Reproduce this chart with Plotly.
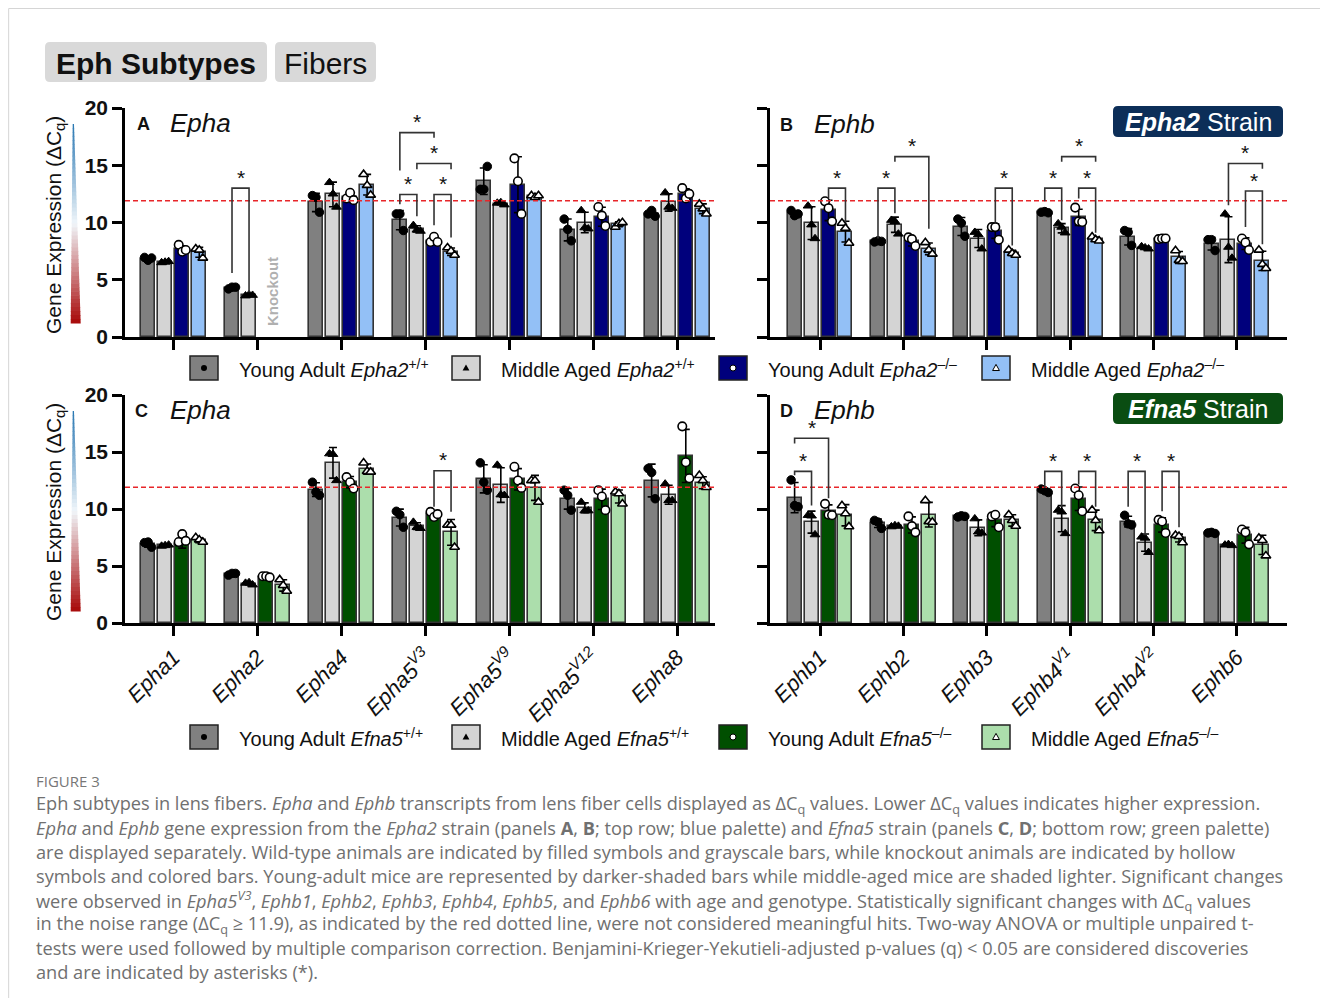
import numpy as np
import plotly.graph_objects as go

# ---------------- data ----------------
EPHA_TICKS = ["<i>Epha1</i>", "<i>Epha2</i>", "<i>Epha4</i>", "<i>Epha5<sup>V3</sup></i>",
              "<i>Epha5<sup>V9</sup></i>", "<i>Epha5<sup>V12</sup></i>", "<i>Epha8</i>"]
EPHB_TICKS = ["<i>Ephb1</i>", "<i>Ephb2</i>", "<i>Ephb3</i>", "<i>Ephb4<sup>V1</sup></i>",
              "<i>Ephb4<sup>V2</sup></i>", "<i>Ephb6</i>"]
NOISE = 11.9

# Panel A: Epha2 strain, Epha genes
A_YAWT_MEAN = [6.85, 4.30, 11.75, 10.20, 13.60, 9.35, 10.75]
A_YAWT_PTS = [[6.95, 6.70, 6.90], [4.20, 4.35, 4.35], [12.35, 12.20, 10.90], [10.75, 10.75, 9.30],
              [12.90, 12.90, 14.90], [10.30, 9.40, 8.40], [10.75, 11.05, 10.55]]
A_MAWT_MEAN = [6.55, 3.65, 12.45, 9.45, 11.65, 10.00, 11.75]
A_MAWT_PTS = [[6.50, 6.55, 6.60], [3.60, 3.70, 3.65], [13.50, 12.50, 11.35], [9.75, 9.35, 9.25],
              [11.70, 11.75, 11.55], [11.05, 9.55, 9.45], [12.60, 11.35, 11.25]]
A_YAKO_MEAN = [7.65, None, 12.25, 8.40, 13.30, 10.50, 12.50]
A_YAKO_PTS = [[8.05, 7.45, 7.60], None, [12.10, 12.60, 11.95], [8.30, 8.75, 8.30],
              [15.60, 13.60, 10.75], [11.35, 10.60, 9.70], [13.00, 12.10, 12.50]]
A_MAKO_MEAN = [7.40, None, 13.30, 7.45, 12.30, 9.85, 11.20]
A_MAKO_PTS = [[7.70, 7.60, 6.90], None, [14.20, 13.25, 12.40], [7.80, 7.50, 7.15],
              [12.35, 12.20, 12.35], [9.60, 9.90, 10.00], [11.60, 11.20, 10.75]]

# Panel B: Epha2 strain, Ephb genes
B_YAWT_MEAN = [10.80, 8.35, 9.65, 10.90, 8.75, 8.15]
B_YAWT_PTS = [[11.05, 10.60, 10.75], [8.30, 8.40, 8.35], [10.30, 9.95, 8.80], [10.90, 10.95, 10.85],
              [9.30, 9.15, 8.00], [8.50, 8.50, 7.55]]
B_MAWT_MEAN = [9.95, 9.80, 8.60, 9.50, 7.80, 8.50]
B_MAWT_PTS = [[11.45, 9.80, 8.60], [10.20, 10.10, 9.00], [9.15, 8.95, 7.70], [9.90, 9.60, 9.10],
              [7.90, 7.80, 7.70], [10.75, 7.85, 6.90]]
B_YAKO_MEAN = [11.05, 8.35, 9.25, 10.45, 8.55, 8.15]
B_YAKO_PTS = [[11.85, 11.25, 10.10], [8.70, 8.55, 7.95], [9.60, 9.60, 8.50], [11.30, 10.10, 10.05],
              [8.55, 8.60, 8.60], [8.60, 8.25, 7.60]]
B_MAKO_MEAN = [9.20, 7.70, 7.35, 8.55, 6.95, 6.65]
B_MAKO_PTS = [[9.95, 9.50, 8.20], [8.25, 7.60, 7.25], [7.60, 7.30, 7.15], [8.75, 8.50, 8.40],
              [7.55, 6.70, 6.60], [7.60, 6.35, 6.00]]

# Panel C: Efna5 strain, Epha genes
C_YAWT_MEAN = [6.90, 4.30, 11.70, 9.25, 12.65, 10.90, 12.50]
C_YAWT_PTS = [[7.05, 7.10, 6.65], [4.20, 4.35, 4.35], [12.35, 11.50, 11.20], [9.80, 9.50, 8.40],
              [14.05, 12.35, 11.65], [11.65, 11.20, 9.90], [13.55, 13.20, 10.90]]
C_MAWT_MEAN = [6.80, 3.45, 14.05, 8.50, 12.10, 10.10, 11.25]
C_MAWT_PTS = [[6.75, 6.80, 6.85], [3.50, 3.55, 3.35], [14.85, 14.80, 12.50], [8.85, 8.40, 8.30],
              [13.85, 11.25, 11.20], [10.60, 9.85, 9.85], [12.20, 10.75, 10.75]]
C_YAKO_MEAN = [6.95, 4.05, 12.35, 9.55, 12.60, 10.85, 14.65]
C_YAKO_PTS = [[7.10, 7.80, 7.20], [4.10, 4.10, 4.00], [12.80, 12.35, 11.80], [9.75, 9.30, 9.55],
              [13.70, 12.50, 11.85], [11.65, 11.10, 9.90], [17.25, 14.10, 12.70]]
C_MAKO_MEAN = [7.25, 3.30, 13.50, 7.95, 11.85, 11.10, 12.30]
C_MAKO_PTS = [[7.50, 7.30, 7.10], [3.80, 3.30, 2.80], [14.05, 13.30, 13.25], [8.60, 8.60, 6.65],
              [12.50, 12.50, 10.60], [11.50, 11.35, 10.45], [12.95, 12.50, 11.90]]

# Panel D: Efna5 strain, Ephb genes
D_YAWT_MEAN = [11.00, 8.75, 9.35, 11.60, 8.90, 7.90]
D_YAWT_PTS = [[12.55, 10.30, 10.20], [9.00, 8.85, 8.30], [9.30, 9.40, 9.35], [11.75, 11.60, 11.45],
              [9.45, 8.70, 8.60], [7.90, 7.95, 7.85]]
D_MAWT_MEAN = [8.85, 8.50, 8.35, 9.15, 7.05, 6.85]
D_MAWT_PTS = [[9.45, 9.40, 7.75], [8.45, 8.55, 8.50], [9.15, 8.00, 7.90], [9.90, 9.75, 7.85],
              [7.55, 7.45, 6.20], [6.85, 6.90, 6.80]]
D_YAKO_MEAN = [9.80, 8.60, 9.05, 10.90, 8.60, 7.70]
D_YAKO_PTS = [[10.45, 9.50, 9.45], [9.35, 8.50, 7.95], [9.35, 9.50, 8.40], [11.80, 11.20, 9.80],
              [9.05, 8.90, 7.90], [8.20, 7.95, 6.90]]
D_MAKO_MEAN = [9.45, 9.50, 9.00, 9.00, 7.45, 6.85]
D_MAKO_PTS = [[10.30, 9.60, 8.45], [10.75, 8.90, 8.85], [9.50, 9.00, 8.50], [9.90, 9.00, 8.10],
              [7.70, 7.60, 7.05], [7.45, 7.25, 5.90]]

# significance brackets: (gene index, series i, series j, bracket top, foot i, foot j)
A_BRACKETS = [(1, 0, 1, 13.0, 5.6, 3.9), (3, 0, 1, 12.45, 11.6, 10.55), (3, 2, 3, 12.45, 9.75, 8.7),
              (3, 1, 3, 15.15, 14.65, 14.65), (3, 0, 2, 17.85, 14.55, 17.4)]
B_BRACKETS = [(0, 2, 3, 13.0, 12.1, 10.0), (1, 0, 1, 13.0, 8.6, 10.8), (1, 1, 3, 15.75, 15.3, 9.45),
              (2, 2, 3, 13.0, 10.0, 8.0), (3, 0, 1, 13.0, 11.85, 10.2), (3, 2, 3, 13.0, 12.1, 9.1),
              (3, 1, 3, 15.75, 15.3, 15.3), (5, 1, 3, 15.15, 11.5, 14.7), (5, 2, 3, 12.75, 9.6, 8.1)]
C_BRACKETS = [(3, 2, 3, 13.35, 10.2, 9.75)]
D_BRACKETS = [(0, 0, 1, 13.3, 12.95, 10.3), (0, 0, 2, 16.2, 15.75, 10.95), (3, 0, 1, 13.3, 11.85, 10.2),
              (3, 2, 3, 13.3, 12.15, 10.2), (4, 0, 1, 13.3, 10.2, 7.7), (4, 2, 3, 13.3, 9.8, 8.4)]

CAPTION = [
    "Eph subtypes in lens fibers. <i>Epha</i> and <i>Ephb</i> transcripts from lens fiber cells displayed as ΔC<sub>q</sub> values. Lower ΔC<sub>q</sub> values indicates higher expression.",
    "<i>Epha</i> and <i>Ephb</i> gene expression from the <i>Epha2</i> strain (panels <b>A</b>, <b>B</b>; top row; blue palette) and <i>Efna5</i> strain (panels <b>C</b>, <b>D</b>; bottom row; green palette)",
    "are displayed separately. Wild-type animals are indicated by filled symbols and grayscale bars, while knockout animals are indicated by hollow",
    "symbols and colored bars. Young-adult mice are represented by darker-shaded bars while middle-aged mice are shaded lighter. Significant changes",
    "were observed in <i>Epha5<sup>V3</sup></i>, <i>Ephb1</i>, <i>Ephb2</i>, <i>Ephb3</i>, <i>Ephb4</i>, <i>Ephb5</i>, and <i>Ephb6</i> with age and genotype. Statistically significant changes with ΔC<sub>q</sub> values",
    "in the noise range (ΔC<sub>q</sub> ≥ 11.9), as indicated by the red dotted line, were not considered meaningful hits. Two-way ANOVA or multiple unpaired t-",
    "tests were used followed by multiple comparison correction. Benjamini-Krieger-Yekutieli-adjusted p-values (q) < 0.05 are considered discoveries",
    "and are indicated by asterisks (*).",
]

# ---------------- styling ----------------
FONT = "Liberation Sans, Arial, sans-serif"
CAPFONT = "Open Sans, sans-serif"
GRAY_D, GRAY_L = "#808080", "#d4d4d4"
BLUE_D, BLUE_L = "#00007c", "#93c0f6"
GREEN_D, GREEN_L = "#004f00", "#acdeac"
OFFS = [-0.305, -0.102, 0.102, 0.305]
BARW = 0.168
JIT = [-0.042, 0.0, 0.042]

W, H, OFF = 1312, 990, 8


def X(x):
    return (x - OFF) / W


def Y(y):
    return 1 - (y - OFF) / H


fig = go.Figure()
shapes, annos = [], []


def pa(x, y, text, size, color="#111", xanchor="center", yanchor="middle", angle=0, family=FONT):
    annos.append(dict(x=X(x), y=Y(y), xref="paper", yref="paper", text=text, showarrow=False,
                      xanchor=xanchor, yanchor=yanchor, textangle=angle,
                      font=dict(family=family, size=size, color=color)))


panels = [
    ("x", "y", [A_YAWT_MEAN, A_MAWT_MEAN, A_YAKO_MEAN, A_MAKO_MEAN],
     [A_YAWT_PTS, A_MAWT_PTS, A_YAKO_PTS, A_MAKO_PTS], [GRAY_D, GRAY_L, BLUE_D, BLUE_L], A_BRACKETS),
    ("x2", "y2", [B_YAWT_MEAN, B_MAWT_MEAN, B_YAKO_MEAN, B_MAKO_MEAN],
     [B_YAWT_PTS, B_MAWT_PTS, B_YAKO_PTS, B_MAKO_PTS], [GRAY_D, GRAY_L, BLUE_D, BLUE_L], B_BRACKETS),
    ("x3", "y3", [C_YAWT_MEAN, C_MAWT_MEAN, C_YAKO_MEAN, C_MAKO_MEAN],
     [C_YAWT_PTS, C_MAWT_PTS, C_YAKO_PTS, C_MAKO_PTS], [GRAY_D, GRAY_L, GREEN_D, GREEN_L], C_BRACKETS),
    ("x4", "y4", [D_YAWT_MEAN, D_MAWT_MEAN, D_YAKO_MEAN, D_MAKO_MEAN],
     [D_YAWT_PTS, D_MAWT_PTS, D_YAKO_PTS, D_MAKO_PTS], [GRAY_D, GRAY_L, GREEN_D, GREEN_L], D_BRACKETS),
]

MARKERS = [
    dict(symbol="circle", color="black", size=8.5, line=dict(color="black", width=1)),
    dict(symbol="triangle-up", color="black", size=8.5, line=dict(color="black", width=1)),
    dict(symbol="circle", color="white", size=8.5, line=dict(color="black", width=1.6)),
    dict(symbol="triangle-up", color="white", size=8.5, line=dict(color="black", width=1.6)),
]

for xa, ya, means, pts, colors, brackets in panels:
    for s in range(4):
        xs, ys, sds = [], [], []
        for g, m in enumerate(means[s]):
            if m is None:
                continue
            xs.append(g + OFFS[s])
            ys.append(m)
            sds.append(float(np.std(pts[s][g], ddof=1)))
        fig.add_trace(go.Bar(
            x=xs, y=ys, width=BARW, xaxis=xa, yaxis=ya, showlegend=False,
            marker=dict(color=colors[s], line=dict(color="#333333", width=1.6)),
            error_y=dict(type="data", array=sds, visible=True, color="black", thickness=1.6, width=4),
        ))
    for s in range(4):
        px_, py_ = [], []
        for g, p in enumerate(pts[s]):
            if p is None:
                continue
            for k, v in enumerate(p):
                px_.append(g + OFFS[s] + JIT[k % 3])
                py_.append(v)
        fig.add_trace(go.Scatter(x=px_, y=py_, mode="markers", xaxis=xa, yaxis=ya,
                                 showlegend=False, marker=MARKERS[s], cliponaxis=False))
    xd = ("x" if xa == "x" else xa) + " domain"
    shapes.append(dict(type="line", xref=xd, yref=ya, x0=0, x1=1, y0=NOISE, y1=NOISE,
                       line=dict(color="#e8262a", width=1.5, dash="5px,3px"), layer="above"))
    for g, i, j, top, fi, fj in brackets:
        xi, xj = g + OFFS[i], g + OFFS[j]
        shapes.append(dict(type="path", xref=xa, yref=ya,
                           path=f"M {xi},{fi} L {xi},{top} L {xj},{top} L {xj},{fj}",
                           line=dict(color="#333333", width=1.6), layer="above"))
        annos.append(dict(x=(xi + xj) / 2, y=top, xref=xa, yref=ya, text="*", showarrow=False,
                          xanchor="center", yanchor="middle", yshift=11,
                          font=dict(family=FONT, size=21, color="#111")))

annos.append(dict(x=1 + 0.17, y=4.0, xref="x", yref="y", text="<b>Knockout</b>", textangle=-90,
                  xanchor="center", yanchor="middle", showarrow=False,
                  font=dict(family=FONT, size=15, color="#b0b0b0")))

# ---------------- axes ----------------
axis_common = dict(showline=True, linewidth=2.6, linecolor="black", ticks="outside", ticklen=10,
                   tickwidth=2.6, tickcolor="black", showgrid=False, zeroline=False, fixedrange=True,
                   automargin=False)
xdomL, xdomR = [X(125), X(715)], [X(770), X(1287)]
ydomT, ydomB = [Y(337), Y(108)], [Y(623), Y(395)]
layout_axes = {}
for idx, (xdom, ydom, ncat, ticks, showx, showy) in enumerate([
        (xdomL, ydomT, 7, EPHA_TICKS, False, True),
        (xdomR, ydomT, 6, EPHB_TICKS, False, False),
        (xdomL, ydomB, 7, EPHA_TICKS, True, True),
        (xdomR, ydomB, 6, EPHB_TICKS, True, False)]):
    n = "" if idx == 0 else str(idx + 1)
    rng = [-0.58, 6.45] if ncat == 7 else [-0.6, 5.6]
    layout_axes["xaxis" + n] = dict(axis_common, domain=xdom, range=rng, anchor="y" + n,
                                    tickvals=list(range(ncat)), ticktext=ticks,
                                    showticklabels=showx, tickangle=-45,
                                    tickfont=dict(family=FONT, size=22, color="#111"))
    layout_axes["yaxis" + n] = dict(axis_common, domain=ydom, range=[0, 20], anchor="x" + n,
                                    tickvals=[0, 5, 10, 15, 20], showticklabels=showy,
                                    tickfont=dict(family=FONT, size=21, color="#111", weight="bold"))


# ---------------- decorations ----------------
def rrect(x0, y0, x1, y1, r, fill):
    p = (f"M {X(x0 + r)},{Y(y0)} L {X(x1 - r)},{Y(y0)} Q {X(x1)},{Y(y0)} {X(x1)},{Y(y0 + r)} "
         f"L {X(x1)},{Y(y1 - r)} Q {X(x1)},{Y(y1)} {X(x1 - r)},{Y(y1)} L {X(x0 + r)},{Y(y1)} "
         f"Q {X(x0)},{Y(y1)} {X(x0)},{Y(y1 - r)} L {X(x0)},{Y(y0 + r)} Q {X(x0)},{Y(y0)} {X(x0 + r)},{Y(y0)} Z")
    return dict(type="path", xref="paper", yref="paper", path=p, fillcolor=fill,
                line=dict(color=fill, width=0), layer="below")


shapes.append(dict(type="rect", xref="paper", yref="paper", x0=0.0005, x1=X(1323), y0=Y(1000), y1=0.9995,
                   line=dict(color="#d5d5d5", width=1), layer="below"))
shapes.append(rrect(45, 42, 267, 82, 5, "#d9d9d9"))
shapes.append(rrect(275, 42, 376, 82, 5, "#d9d9d9"))
pa(156, 63, "<b>Eph Subtypes</b>", 30)
pa(325.5, 63, "Fibers", 30)
shapes.append(rrect(1113, 106, 1283, 137, 5, "#0c2e58"))
shapes.append(rrect(1113, 393, 1283, 424, 5, "#0a4d12"))
pa(1198, 122, "<b><i>Epha2</i></b> Strain", 25, color="white")
pa(1198, 409, "<b><i>Efna5</i></b> Strain", 25, color="white")

for letter, lx, tx, yy, gene in [("A", 143, 168, 123, "Epha"), ("B", 786, 812, 124, "Ephb"),
                                 ("C", 141, 168, 410, "Epha"), ("D", 786, 812, 410, "Ephb")]:
    pa(lx, yy + 1, f"<b>{letter}</b>", 18)
    pa(tx, yy, f"<i>{gene}</i>", 26, xanchor="left")


def lerp(c1, c2, t):
    return tuple(int(round(a + (b - a) * t)) for a, b in zip(c1, c2))


for yc, ytop, ybot in [(225, 124, 323), (512, 411, 611)]:
    pa(55, yc, "Gene Expression (ΔC<sub>q</sub>)", 21, angle=-90)
    n = 50
    top_c, mid_c, bot_c = (40, 118, 178), (240, 246, 250), (168, 8, 8)
    for k in range(n):
        t0, t1 = k / n, (k + 1) / n
        tm = (t0 + t1) / 2
        col = lerp(top_c, mid_c, tm / 0.5) if tm < 0.5 else lerp(mid_c, bot_c, (tm - 0.5) / 0.5)
        ya0 = ytop + (ybot - ytop) * t0
        ya1 = ytop + (ybot - ytop) * t1 + 0.6
        l0, l1 = 72.7 - 2.0 * t0, 72.7 - 2.0 * t1
        r0, r1 = 74.0 + 6.7 * t0, 74.0 + 6.7 * t1
        path = f"M {X(l0)},{Y(ya0)} L {X(r0)},{Y(ya0)} L {X(r1)},{Y(ya1)} L {X(l1)},{Y(ya1)} Z"
        shapes.append(dict(type="path", xref="paper", yref="paper", path=path,
                           fillcolor=f"rgb{col}", line=dict(width=0), layer="above"))


def tri_path(cx, cy, s):
    return (f"M {X(cx)},{Y(cy - s)} L {X(cx + s * 0.95)},{Y(cy + s * 0.7)} "
            f"L {X(cx - s * 0.95)},{Y(cy + s * 0.7)} Z")


for yc, strain, cd, cl in [(368, "Epha2", BLUE_D, BLUE_L), (737, "Efna5", GREEN_D, GREEN_L)]:
    items = [(190, GRAY_D, "dot", "black", f"Young Adult <i>{strain}</i><sup>+/+</sup>"),
             (452, GRAY_L, "tri", "black", f"Middle Aged <i>{strain}</i><sup>+/+</sup>"),
             (719, cd, "dot", "white", f"Young Adult <i>{strain}</i><sup>–/–</sup>"),
             (982, cl, "tri", "white", f"Middle Aged <i>{strain}</i><sup>–/–</sup>")]
    for bx, fill, mk, mcol, label in items:
        shapes.append(dict(type="rect", xref="paper", yref="paper", x0=X(bx), x1=X(bx + 28),
                           y0=Y(yc + 12), y1=Y(yc - 12), fillcolor=fill,
                           line=dict(color="#222", width=1.5), layer="above"))
        cx = bx + 14
        if mk == "dot":
            shapes.append(dict(type="circle", xref="paper", yref="paper", x0=X(cx - 3), x1=X(cx + 3),
                               y0=Y(yc + 3), y1=Y(yc - 3), fillcolor=mcol,
                               line=dict(color="black", width=1 if mcol == "white" else 0), layer="above"))
        else:
            shapes.append(dict(type="path", xref="paper", yref="paper", path=tri_path(cx, yc, 3.6),
                               fillcolor=mcol, line=dict(color="black", width=1 if mcol == "white" else 0),
                               layer="above"))
        pa(bx + 47, yc, label, 20, xanchor="left")

pa(34, 781, "FIGURE 3", 15, color="#777777", xanchor="left", family=CAPFONT)
for k, line in enumerate(CAPTION):
    pa(34, 804 + 24 * k, line, 18.2, color="#707070", xanchor="left", family=CAPFONT)

fig.update_layout(
    template="none",
    width=W, height=H, margin=dict(l=0, r=0, t=0, b=0, pad=0), autosize=False,
    paper_bgcolor="white", plot_bgcolor="rgba(0,0,0,0)", barmode="overlay", bargap=0,
    shapes=shapes, annotations=annos, showlegend=False, font=dict(family=FONT),
    **layout_axes,
)
fig.write_html("out.html")
